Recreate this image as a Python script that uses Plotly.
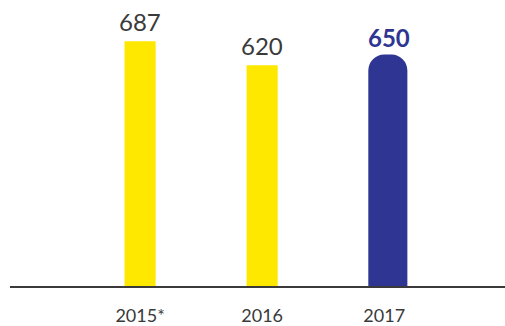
import plotly.graph_objects as go

categories = ["2015*", "2016", "2017"]
values = [687, 620, 650]
labels = ["687", "620", "650"]

yellow = "#FFE800"
blue = "#2E3592"
text_col = "#3a3a3a"

fig = go.Figure()
fig.add_trace(go.Bar(
    x=categories[:2], y=values[:2], width=0.255,
    marker=dict(color=yellow, line=dict(width=0)), hoverinfo="skip",
))
fig.add_trace(go.Bar(
    x=categories[2:], y=values[2:], width=0.32, offset=-0.13,
    marker=dict(color=blue, line=dict(width=0), cornerradius=16), hoverinfo="skip",
))

for i, (v, t) in enumerate(zip(values, labels)):
    last = i == len(categories) - 1
    fig.add_annotation(
        x=i, y=v, text=f"<b>{t}</b>" if last else t, showarrow=False,
        yanchor="bottom", yshift=0 if last else 3, xshift=5 if last else 0,
        font=dict(family="Lato", size=24, color=blue if last else text_col,
                  weight=700 if last else 400),
    )

fig.update_layout(
    width=505, height=326, margin=dict(l=10, r=0, t=0, b=38),
    paper_bgcolor="white", plot_bgcolor="white", showlegend=False,
    barmode="overlay",
    xaxis=dict(
        type="category", range=[-1.066, 2.99], showgrid=False, zeroline=False,
        showline=True, linecolor="#3a3a3a", linewidth=1.5,
        ticks="outside", ticklen=13, tickcolor="rgba(0,0,0,0)",
        tickfont=dict(family="Lato", size=18, color=text_col, weight=400),
    ),
    yaxis=dict(range=[0, 803], visible=False, showgrid=False, zeroline=False),
)
fig.write_html("out.html")
